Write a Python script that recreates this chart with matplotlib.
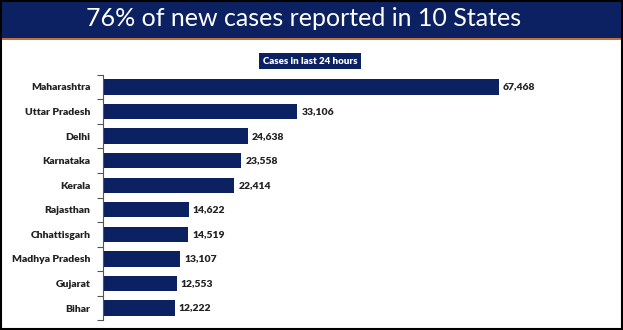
import matplotlib.pyplot as plt
from matplotlib.patches import Rectangle
import numpy as np

# data
states = ["Maharashtra", "Uttar Pradesh", "Delhi", "Karnataka", "Kerala",
          "Rajasthan", "Chhattisgarh", "Madhya Pradesh", "Gujarat", "Bihar"]
cases = [67468, 33106, 24638, 23558, 22414, 14622, 14519, 13107, 12553, 12222]

title = "76% of new cases reported in 10 States"
subtitle = "Cases in last 24 hours"

navy = "#0b2161"
plt.rcParams['font.family'] = ['Lato', 'DejaVu Sans']

fig = plt.figure(figsize=(6.23, 3.30), dpi=100)
W, H = 623, 330

# title banner with orange rule underneath
fig.patches.append(Rectangle((0, 1 - 38 / H), 1, 38 / H, transform=fig.transFigure,
                             facecolor=navy, edgecolor="none", zorder=0))
fig.patches.append(Rectangle((0, 1 - 40 / H), 1, 2 / H, transform=fig.transFigure,
                             facecolor="#c5703a", edgecolor="none", zorder=0))
fig.text(304 / W, 1 - 19 / H, title, color="white", fontsize=18, ha="center", va="center")

# small subtitle box
fig.text(310 / W, 1 - 61 / H, subtitle, color="white", fontsize=7, fontweight="heavy",
         ha="center", va="center",
         bbox=dict(boxstyle="square,pad=0.4", facecolor=navy, edgecolor="none"))

# outer border
fig.patches.append(Rectangle((0.001, 0.002), 0.997, 0.995, transform=fig.transFigure,
                             facecolor="none", edgecolor="black", linewidth=1.5, zorder=5))

ax = fig.add_axes([103 / W, 1 - 320.3 / H, 440 / W, 245.6 / H])
y = np.arange(len(states))
ax.barh(y, cases, height=0.62, color=navy)
ax.set_ylim(len(states) - 0.5, -0.5)
ax.set_xlim(0, 75000)

for yi, v in zip(y, cases):
    ax.text(v + 700, yi, f"{v:,}", va="center", ha="left", fontsize=7.5, fontweight="heavy",
            color="#222222")

ax.set_yticks(y)
ax.set_yticklabels(states, fontsize=7.5, fontweight="heavy", color="#222222")
ax.tick_params(axis="y", which="major", length=0, pad=9)
ax.set_yticks(np.arange(-0.5, len(states) + 0.5, 1), minor=True)
ax.tick_params(axis="y", which="minor", length=4, width=0.8, color="#555555")
ax.set_xticks([])
for s in ["top", "right", "bottom"]:
    ax.spines[s].set_visible(False)
ax.spines["left"].set_color("#555555")
ax.spines["left"].set_linewidth(0.8)

fig.savefig("out.png", dpi=100)
